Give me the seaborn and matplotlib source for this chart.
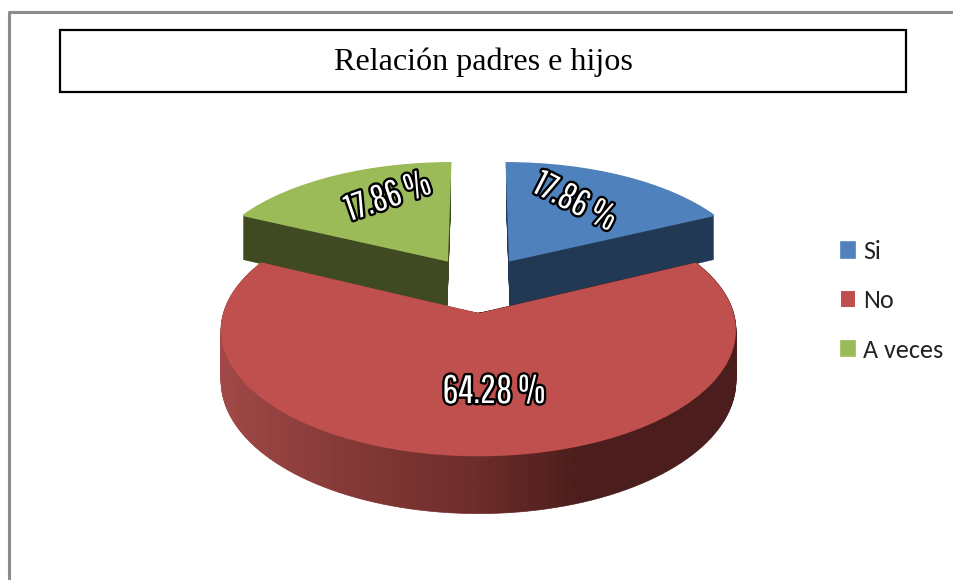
import numpy as np
import matplotlib
matplotlib.use("Agg")
import matplotlib.pyplot as plt
import matplotlib.patheffects as pe
from matplotlib.colors import LinearSegmentedColormap
from matplotlib.patches import Rectangle
from matplotlib.transforms import Transform
import seaborn as sns

categories = ['Si', 'No', 'A veces']
values = [17.86, 64.28, 17.86]
colors = ['#4f81bd', '#c0504d', '#9bbb59']
wall_colors = ['#213955', '#c0504d', '#3f4a22']
title = 'Relación padres e hijos'

# camera for the fake 3d pie, fitted by eye on the picture
CX, CY = 478.5, 296
A, B, P, H = 247, 116, 0.13, 48
EXPLODE = 0.245
N_LAYERS = 60
N_RED = 120

sns.set_theme(style='white')


class Projection(Transform):
    input_dims = 2
    output_dims = 2

    def __init__(self, z):
        super().__init__()
        self.z = z

    def transform_non_affine(self, xy):
        xy = np.asarray(xy, dtype=float)
        s = 1 / (1 + P * xy[:, 1])
        return np.column_stack([CX + A * xy[:, 0] * s,
                                CY + (B * xy[:, 1] + H * self.z) * s])


def place(wedges, z, zorder, ax, seal=0):
    for w in wedges:
        w.set_transform(Projection(z) + ax.transData)
        w.set_zorder(zorder)
        w.set_clip_on(False)
        w.set_edgecolor(w.get_facecolor())
        w.set_linewidth(seal)


fig = plt.figure(figsize=(9.54, 5.8), dpi=100)
ax = fig.add_axes([0, 0, 1, 1])

shade = LinearSegmentedColormap.from_list(
    'wall', [(0, '#a34a48'), (0.5, '#6c2c2a'), (0.68, '#4b1d1c'), (1, '#4b1d1c')])
total = sum(values)
red_start = 90 - 360 * values[0] / total
red_part = values[1] / total / N_RED
mids = (values[0] / total + red_part * (np.arange(N_RED) + 0.5)) * 2 * np.pi
red_colors = [shade((1 + np.sin(t)) / 2) for t in mids]

for i, z in enumerate(np.linspace(-1, 0, N_LAYERS)):
    back, _ = ax.pie(values, startangle=90, counterclock=False, colors=wall_colors,
                     explode=[EXPLODE] * 3)
    place([back[0], back[2]], z, 2 + i * 0.001, ax, seal=0.3)
    back[1].set_visible(False)
    side, _ = ax.pie([red_part] * N_RED, startangle=red_start, counterclock=False,
                     colors=red_colors, normalize=False, center=(0, -EXPLODE))
    place(side, z, 4 + i * 0.001, ax, seal=0.5)

top, _ = ax.pie(values, startangle=90, counterclock=False, colors=colors,
                explode=[EXPLODE] * 3)
place([top[0], top[2]], 0, 3, ax, seal=1.2)
place([top[1]], 0, 5, ax)

ax.set_aspect('auto')
ax.set_xlim(0, 954)
ax.set_ylim(0, 580)
ax.axis('off')

outline = [pe.withStroke(linewidth=3.4, foreground='black')]
label_font = ['Pathway Gothic One', 'PT Sans Narrow', 'Liberation Sans']
label_pos = [(575, 378, -27, 26.5), (494, 188, 0, 28.5), (388, 383, 19, 26.5)]
for val, (x, y, rot, size) in zip(values, label_pos):
    ax.text(x, y, f'{val:.2f} %', color='white', fontsize=size, family=label_font,
            ha='center', va='center', rotation=rot,
            rotation_mode='anchor', path_effects=outline, zorder=10)

# grey frame of the page and the title box
ax.plot([9.5, 9.5, 954], [0, 568, 568], color='#8c8c8c', lw=2.2, zorder=1, clip_on=False)
ax.add_patch(Rectangle((60, 488), 846, 62, fill=False, ec='black', lw=1.6, zorder=6))
ax.text(483, 518, title, family='Liberation Serif', fontsize=23.1, color='black',
        ha='center', va='center', zorder=7)

leg = ax.legend(top, categories, loc='center left', bbox_to_anchor=(841 / 954, 279 / 580),
                frameon=False, prop=dict(family=['Carlito', 'Lato'], size=18.8), handlelength=0.54,
                handleheight=0.54, handletextpad=0.3, labelspacing=1.0,
                borderpad=0, borderaxespad=0)
for t in leg.get_texts():
    t.set_color('#222222')

fig.savefig('out.png', dpi=100, facecolor='white')
